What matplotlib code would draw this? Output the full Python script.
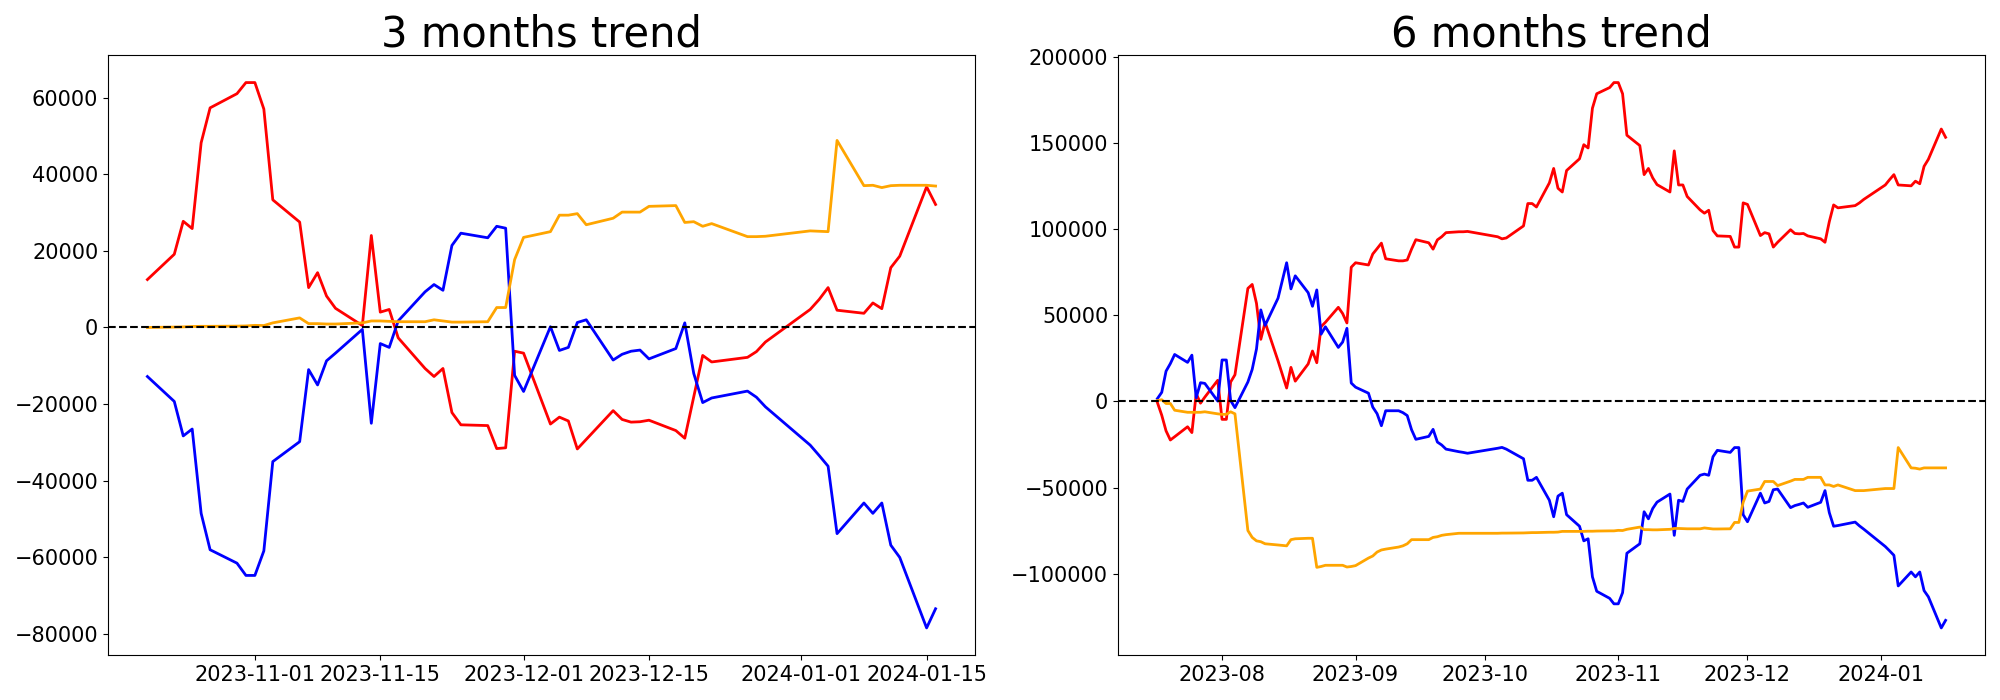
import matplotlib
matplotlib.use("Agg")
import matplotlib.pyplot as plt
import pandas as pd

# 3 months (trading days)
dates_3m = ['2023-10-20', '2023-10-23', '2023-10-24', '2023-10-25', '2023-10-26', '2023-10-27',
            '2023-10-30', '2023-10-31', '2023-11-01', '2023-11-02', '2023-11-03',
            '2023-11-06', '2023-11-07', '2023-11-08', '2023-11-09', '2023-11-10',
            '2023-11-13', '2023-11-14', '2023-11-15', '2023-11-16', '2023-11-17',
            '2023-11-20', '2023-11-21', '2023-11-22', '2023-11-23', '2023-11-24',
            '2023-11-27', '2023-11-28', '2023-11-29', '2023-11-30', '2023-12-01',
            '2023-12-04', '2023-12-05', '2023-12-06', '2023-12-07', '2023-12-08',
            '2023-12-11', '2023-12-12', '2023-12-13', '2023-12-14', '2023-12-15',
            '2023-12-18', '2023-12-19', '2023-12-20', '2023-12-21', '2023-12-22',
            '2023-12-26', '2023-12-27', '2023-12-28',
            '2024-01-02', '2024-01-03', '2024-01-04', '2024-01-05',
            '2024-01-08', '2024-01-09', '2024-01-10', '2024-01-11', '2024-01-12',
            '2024-01-15', '2024-01-16']
red_3m = [12500, 19100, 27700, 25800, 48200, 57300,
          61000, 63900, 63900, 57000, 33300,
          27500, 10400, 14300, 8200, 5000,
          500, 24000, 4000, 4700, -2700,
          -10700, -12800, -10700, -22200, -25400,
          -25600, -31600, -31400, -6200, -6700,
          -25200, -23400, -24400, -31700, -29200,
          -21700, -24000, -24700, -24600, -24200,
          -26900, -28900, -18100, -7300, -9000,
          -7800, -6300, -3800,
          4700, 7300, 10400, 4500,
          3700, 6400, 4900, 15600, 18600,
          36700, 32100]
blue_3m = [-12800, -19300, -28300, -26500, -48500, -58000,
           -61500, -64700, -64700, -58300, -35000,
           -29800, -11000, -15000, -8700, -6700,
           -500, -25000, -4200, -5200, 1700,
           9300, 11200, 9700, 21400, 24600,
           23400, 26400, 25900, -12500, -16700,
           200, -6000, -5200, 1300, 2000,
           -8500, -7000, -6200, -5900, -8200,
           -5500, 1200, -12000, -19600, -18400,
           -16600, -18200, -20700,
           -30700, -33400, -36200, -53800,
           -45800, -48500, -45800, -56800, -60000,
           -78400, -73400]
orange_3m = [0, 100, 150, 250, 300, 300,
             350, 400, 550, 500, 1200,
             2500, 1000, 1000, 900, 900,
             1200, 1700, 1700, 1600, 1500,
             1500, 2000, 1700, 1400, 1400,
             1500, 5200, 5200, 17700, 23500,
             25000, 29300, 29300, 29700, 26800,
             28500, 30100, 30100, 30100, 31600,
             31800, 27400, 27600, 26400, 27100,
             23700, 23700, 23800,
             25200, 25100, 25000, 48800,
             37000, 37100, 36500, 37000, 37100,
             37100, 36900]

# 6 months (trading days)
dates_6m = ['2023-07-17', '2023-07-18', '2023-07-19', '2023-07-20', '2023-07-21',
            '2023-07-24', '2023-07-25', '2023-07-26', '2023-07-27', '2023-07-28', '2023-07-31',
            '2023-08-01', '2023-08-02', '2023-08-03', '2023-08-04',
            '2023-08-07', '2023-08-08', '2023-08-09', '2023-08-10', '2023-08-11',
            '2023-08-14', '2023-08-16', '2023-08-17', '2023-08-18',
            '2023-08-21', '2023-08-22', '2023-08-23', '2023-08-24', '2023-08-25',
            '2023-08-28', '2023-08-29', '2023-08-30', '2023-08-31', '2023-09-01',
            '2023-09-04', '2023-09-05', '2023-09-06', '2023-09-07', '2023-09-08',
            '2023-09-11', '2023-09-12', '2023-09-13', '2023-09-14', '2023-09-15',
            '2023-09-18', '2023-09-19', '2023-09-20', '2023-09-21', '2023-09-22',
            '2023-09-25', '2023-09-26', '2023-09-27',
            '2023-10-04', '2023-10-05', '2023-10-06',
            '2023-10-10', '2023-10-11', '2023-10-12', '2023-10-13',
            '2023-10-16', '2023-10-17', '2023-10-18', '2023-10-19', '2023-10-20',
            '2023-10-23', '2023-10-24', '2023-10-25', '2023-10-26', '2023-10-27',
            '2023-10-30', '2023-10-31', '2023-11-01', '2023-11-02', '2023-11-03',
            '2023-11-06', '2023-11-07', '2023-11-08', '2023-11-09', '2023-11-10',
            '2023-11-13', '2023-11-14', '2023-11-15', '2023-11-16', '2023-11-17',
            '2023-11-20', '2023-11-21', '2023-11-22', '2023-11-23', '2023-11-24',
            '2023-11-27', '2023-11-28', '2023-11-29', '2023-11-30', '2023-12-01',
            '2023-12-04', '2023-12-05', '2023-12-06', '2023-12-07', '2023-12-08',
            '2023-12-11', '2023-12-12', '2023-12-13', '2023-12-14', '2023-12-15',
            '2023-12-18', '2023-12-19', '2023-12-20', '2023-12-21', '2023-12-22',
            '2023-12-26', '2023-12-27', '2023-12-28',
            '2024-01-02', '2024-01-03', '2024-01-04', '2024-01-05',
            '2024-01-08', '2024-01-09', '2024-01-10', '2024-01-11', '2024-01-12',
            '2024-01-15', '2024-01-16']
red_6m = [-700, -8000, -17100, -22400, -20500,
          -14700, -18100, 4500, -1000, 2500, 12300,
          -10400, -10400, 11300, 15500,
          65700, 68000, 57000, 36100, 46000,
          23600, 7800, 19800, 11800,
          21800, 29300, 22500, 43500, 46000,
          54700, 51100, 45600, 78000, 80600,
          79300, 85700, 88800, 92000, 82900,
          81700, 81700, 82200, 88500, 94000,
          92200, 88500, 93900, 95700, 98100,
          98600, 98600, 98800,
          95700, 94500, 95000,
          102000, 115000, 115000, 113000,
          127000, 135400, 123900, 121700, 134200,
          141000, 149200, 147300, 170400, 178800,
          182400, 185300, 185300, 178800, 154700,
          148700, 131800, 135400, 129900, 126000,
          121700, 145600, 125800, 125800, 119100,
          111300, 109400, 111100, 99300, 96200,
          95900, 89700, 89700, 115400, 114500,
          96400, 98100, 97400, 89700, 92500,
          99800, 97600, 97400, 97600, 96200,
          94500, 92500, 104500, 114200, 112500,
          113800, 115400, 117400,
          125800, 128900, 131800, 125800,
          125300, 128000, 126500, 136600, 140700,
          158300, 153500]
blue_6m = [1700, 5300, 17600, 22000, 27300,
           22700, 26900, 2200, 10900, 10500, 200,
           24100, 24100, 500, -3600,
           11300, 18600, 30500, 53200, 44200,
           60000, 80600, 65400, 73000,
           63200, 55300, 64800, 39100, 43400,
           31400, 34500, 42500, 10700, 8300,
           4800, -3300, -7100, -14100, -5400,
           -5400, -6500, -8200, -16400, -22000,
           -20300, -16200, -23600, -25300, -27700,
           -29200, -29600, -30100,
           -27200, -26700, -27700,
           -33300, -45800, -45800, -44100,
           -57400, -67000, -55000, -53300, -65800,
           -72500, -81000, -79800, -101900, -110300,
           -114400, -117600, -117600, -111100, -88200,
           -82700, -64100, -68200, -62200, -58500,
           -53800, -77800, -57400, -58100, -50900,
           -42900, -42200, -42900, -32100, -28400,
           -29600, -26800, -26800, -65800, -69900,
           -53300, -59000, -58100, -51300, -50900,
           -61700, -60500, -59800, -59000, -61500,
           -58600, -51800, -64600, -72500, -72100,
           -70100, -72300, -74200,
           -84300, -86800, -89400, -107200,
           -99100, -101900, -99100, -109900, -113500,
           -131600, -127200]
orange_6m = [500, 1000, -1200, -1200, -5100,
             -6300, -6300, -6300, -6300, -6000, -7200,
             -7500, -7500, -6000, -7200,
             -75000, -79000, -81000, -81500, -82700,
             -83400, -83900, -80300, -79800,
             -79500, -79500, -96400, -95900, -95200,
             -95200, -95200, -96200, -95900, -95400,
             -91000, -89800, -87500, -86300, -85800,
             -84600, -83900, -82700, -80300, -80300,
             -80300, -79000, -78600, -77800, -77400,
             -76600, -76600, -76600,
             -76600, -76500, -76500,
             -76400, -76300, -76200, -76200,
             -76000, -76000, -75900, -75500, -75500,
             -75500, -75500, -75400, -75400, -75300,
             -75200, -75200, -74900, -75000, -74300,
             -73000, -74500, -74500, -74600, -74600,
             -74300, -73800, -73800, -73900, -74000,
             -74000, -73500, -73800, -74100, -74100,
             -74000, -70300, -70300, -58600, -52100,
             -50900, -46500, -46500, -46500, -48900,
             -46300, -45300, -45300, -45300, -44100,
             -44100, -48500, -48500, -49400, -48500,
             -51800, -51800, -51800,
             -50600, -50600, -50600, -26800,
             -38600, -38800, -39300, -38600, -38600,
             -38600, -38600]

fig, axes = plt.subplots(1, 2, figsize=(20, 7), dpi=100)

panels = [
    (axes[0], '3 months trend', dates_3m, red_3m, blue_3m, orange_3m),
    (axes[1], '6 months trend', dates_6m, red_6m, blue_6m, orange_6m),
]

for ax, title, dates, red, blue, orange in panels:
    x = pd.to_datetime(dates)
    ax.plot(x, red, color='red', linewidth=2)
    ax.plot(x, blue, color='blue', linewidth=2)
    ax.plot(x, orange, color='orange', linewidth=2)
    ax.axhline(0, color='black', linestyle='--', linewidth=1.5)
    ax.set_title(title, fontsize=30)
    ax.tick_params(labelsize=15)

plt.subplots_adjust(left=0.054, right=0.9925, bottom=0.064, top=0.921, wspace=0.165)
plt.savefig('out.png')
